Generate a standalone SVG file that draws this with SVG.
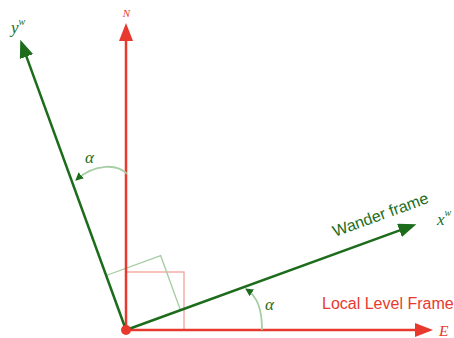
<svg xmlns="http://www.w3.org/2000/svg" width="454" height="338" viewBox="0 0 454 338">
<style>
.red{stroke:#e8392e;stroke-width:2.5;fill:none}
.grn{stroke:#1c6c1c;stroke-width:2.5;fill:none}
.sqr{stroke:#f3a29c;stroke-width:1.3;fill:none}
.sqg{stroke:#a6cca3;stroke-width:1.3;fill:none}
.arc{stroke:#a6cfa6;stroke-width:1.8;fill:none}
.it{font-family:"Liberation Serif",serif;font-style:italic}
.sans{font-family:"Liberation Sans",Arial,sans-serif}
</style>
<defs>
<marker id="ar" viewBox="0 -7 18 14" refX="1" refY="0" markerWidth="18" markerHeight="14" markerUnits="userSpaceOnUse" orient="auto"><path d="M0,-7 L18,0 L0,7 z" fill="#e8392e"/></marker>
<marker id="ag" viewBox="0 -7 18 14" refX="1" refY="0" markerWidth="18" markerHeight="14" markerUnits="userSpaceOnUse" orient="auto"><path d="M0,-7 L18,0 L0,7 z" fill="#1c6c1c"/></marker>
<marker id="as" viewBox="0 -4 8 8" refX="7" refY="0" markerWidth="8" markerHeight="8" markerUnits="userSpaceOnUse" orient="auto"><path d="M0,-4 L8,0 L0,4 z" fill="#1c6c1c"/></marker>
</defs>
<g id="squares">
<rect class="sqr" x="126" y="272" width="58" height="58"/>
<path class="sqg" d="M106.2,275.5 L160.7,255.7 L180.5,310.2"/>
</g>
<g id="connectors">
<line id="axisN" class="red" x1="126" y1="330" x2="126" y2="40" marker-end="url(#ar)"/>
<line id="axisE" class="red" x1="126" y1="330" x2="416" y2="330" marker-end="url(#ar)"/>
<line id="axisYw" class="grn" x1="126" y1="330" x2="26.1" y2="55.6" marker-end="url(#ag)"/>
<line id="axisXw" class="grn" x1="126" y1="330" x2="400.4" y2="230.1" marker-end="url(#ag)"/>
<path id="arcTop" class="arc" d="M127,174 C118,164 95,163 76,180" marker-end="url(#as)"/>
<path id="arcBottom" class="arc" d="M262,330 C262,310 258,297 246,289" marker-end="url(#as)"/>
</g>
<g id="origin"><circle cx="126" cy="330" r="5" fill="#e8392e"/></g>
<g id="labels">
<text class="it" x="126.5" y="17" font-size="11" fill="#e8392e" text-anchor="middle">N</text>
<text class="it" x="439" y="336" font-size="15.5" fill="#e8392e">E</text>
<text class="it" x="11" y="33" font-size="17" fill="#1c6c1c">y<tspan font-size="10" dy="-8">w</tspan></text>
<text class="it" x="437" y="225" font-size="17" fill="#1c6c1c">x<tspan font-size="10" dy="-9">w</tspan></text>
<text class="it" x="85" y="163" font-size="17" fill="#1c6c1c">α</text>
<text class="it" x="265" y="310" font-size="17" fill="#1c6c1c">α</text>
<text class="sans" x="0" y="0" font-size="16" fill="#1c6c1c" transform="translate(335,237) rotate(-20)">Wander frame</text>
<text class="sans" x="322" y="309" font-size="16" fill="#e8392e">Local Level Frame</text>
</g>
</svg>
